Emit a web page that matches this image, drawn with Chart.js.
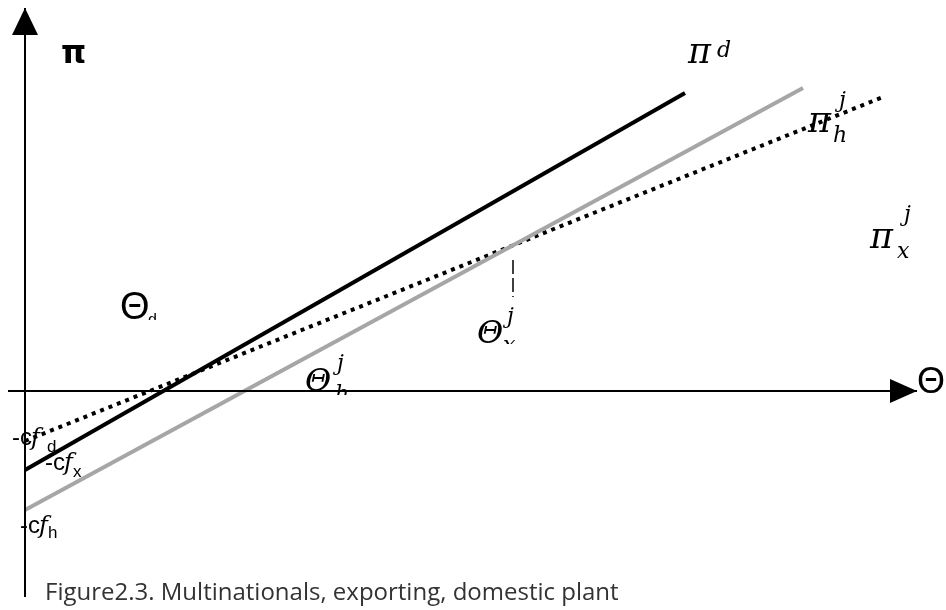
<!DOCTYPE html>
<html lang="en">
  <head>
    <meta charset="utf-8" />
    <title>Figure 2.3</title>
    <style>
      * {
        margin: 0;
        padding: 0;
      }
      body {
        background: white;
      }
      .chartBox {
        position: relative;
        width: 946px;
        height: 610px;
      }
      .caption {
        position: absolute;
        left: 45px;
        top: 579px;
        font: 24px/1 "Open Sans", sans-serif;
        color: #333;
        white-space: nowrap;
      }
    </style>
  </head>
  <body>
    <div class="chartBox">
      <canvas id="myChart"></canvas>
      <div class="caption">Figure2.3. Multinationals, exporting, domestic plant</div>
    </div>

    <script src="https://cdn.jsdelivr.net/npm/chart.js"></script>

    <script>
      // profit lines (theta on x, pi on y)
      const thetaD = [0, 66.0];
      const piD = [-7.9, 29.8];
      const thetaH = [0, 77.8];
      const piH = [-11.9, 30.3];
      const thetaX = [0, 85.8];
      const piX = [-5.0, 29.4];
      // dashed drop line at the pi_h / pi_x crossing
      const thetaCut = [48.8, 48.8];
      const piCut = [13.1, 9.4];
      // axis extents
      const thetaAxis = [-1.7, 89.2];
      const piAxis = [-20.6, 38.3];

      const pts = (xs, ys) => xs.map((x, i) => ({ x: x, y: ys[i] }));

      const serifI = (s) => "italic " + s + 'px "DejaVu Serif"';
      const sans = (s) => s + 'px "Liberation Sans"';

      // labels: anchor in data units, each part offset from it in px
      const labels = [
        { at: [3.6, 32.8], parts: [["π", 'bold 32px "DejaVu Sans"', 0, 0]] },
        {
          at: [66.3, 32.8],
          parts: [
            ["π", serifI(35), 0, 0],
            ["d", serifI(22), 29, -6],
          ],
        },
        {
          at: [78.3, 25.9],
          parts: [
            ["π", serifI(35), 0, 0],
            ["j", serifI(22), 31, -25],
            ["h", serifI(22), 25, 10],
          ],
        },
        {
          at: [84.5, 14.3],
          parts: [
            ["π", serifI(35), 0, 0],
            ["j", serifI(22), 34, -27],
            ["x", serifI(22), 27, 10],
          ],
        },
        {
          at: [9.5, 7.2],
          clip: 320,
          parts: [
            ["Θ", sans(38), 0, 0],
            ["d", sans(16), 28, 6],
          ],
        },
        {
          at: [45.2, 4.8],
          clip: 344,
          parts: [
            ["Θ", serifI(32), 0, 0],
            ["j", serifI(22), 30, -20],
            ["x", serifI(22), 26, 9],
          ],
        },
        {
          at: [28.0, 0],
          clip: 395,
          parts: [
            ["Θ", serifI(32), 0, 0],
            ["j", serifI(22), 32, -21],
            ["h", serifI(22), 30, 10],
          ],
        },
        { at: [89.2, -0.2], parts: [["Θ", sans(36), 0, 0]] },
        {
          at: [-1.3, -5.4],
          parts: [
            ["-c", sans(24), 0, 0],
            ["f", serifI(24), 19, 0],
            ["d", sans(17), 35, 7],
          ],
        },
        {
          at: [2.0, -7.9],
          parts: [
            ["-c", sans(24), 0, 0],
            ["f", serifI(24), 19, 0],
            ["x", sans(17), 28, 7],
          ],
        },
        {
          at: [-0.5, -14.2],
          parts: [
            ["-c", sans(24), 0, 0],
            ["f", serifI(24), 19, 0],
            ["h", sans(17), 28, 5],
          ],
        },
      ];

      const diagram = {
        id: "diagram",
        afterDatasetsDraw(chart) {
          const {
            ctx,
            scales: { x, y },
          } = chart;
          ctx.save();
          ctx.fillStyle = "black";

          // arrow heads
          const tx = x.getPixelForValue(0);
          const ty = y.getPixelForValue(piAxis[1]);
          ctx.beginPath();
          ctx.moveTo(tx, ty);
          ctx.lineTo(tx - 13, ty + 27);
          ctx.lineTo(tx + 13, ty + 27);
          ctx.closePath();
          ctx.fill();

          const rx = x.getPixelForValue(thetaAxis[1]);
          const ry = y.getPixelForValue(0);
          ctx.beginPath();
          ctx.moveTo(rx, ry);
          ctx.lineTo(rx - 27, ry - 12);
          ctx.lineTo(rx - 27, ry + 12);
          ctx.closePath();
          ctx.fill();

          // labels
          ctx.textBaseline = "alphabetic";
          ctx.textAlign = "left";
          labels.forEach((lab) => {
            ctx.save();
            if (lab.clip) {
              ctx.beginPath();
              ctx.rect(0, 0, chart.width, lab.clip);
              ctx.clip();
            }
            const px = x.getPixelForValue(lab.at[0]);
            const py = y.getPixelForValue(lab.at[1]);
            lab.parts.forEach(([t, f, ox, oy]) => {
              ctx.font = f;
              ctx.fillText(t, px + ox, py + oy);
            });
            ctx.restore();
          });
          ctx.restore();
        },
      };

      const lineStyle = {
        pointRadius: 0,
        fill: false,
        tension: 0,
        borderCapStyle: "butt",
      };

      const data = {
        datasets: [
          {
            ...lineStyle,
            data: pts([0, 0], piAxis),
            borderColor: "black",
            borderWidth: 2,
          },
          {
            ...lineStyle,
            data: pts(thetaAxis, [0, 0]),
            borderColor: "black",
            borderWidth: 2,
          },
          {
            ...lineStyle,
            label: "pi d",
            data: pts(thetaD, piD),
            borderColor: "black",
            borderWidth: 4,
          },
          {
            ...lineStyle,
            label: "pi h j",
            data: pts(thetaH, piH),
            borderColor: "#a6a6a6",
            borderWidth: 4,
          },
          {
            ...lineStyle,
            label: "pi x j",
            data: pts(thetaX, piX),
            borderColor: "black",
            borderWidth: 4,
            borderDash: [4, 5],
          },
          {
            ...lineStyle,
            data: pts(thetaCut, piCut),
            borderColor: "black",
            borderWidth: 1.5,
            borderDash: [14, 4],
          },
        ],
      };

      const config = {
        type: "scatter",
        data: data,
        options: {
          responsive: true,
          maintainAspectRatio: false,
          animation: false,
          events: [],
          showLine: true,
          layout: { padding: 0, autoPadding: false },
          plugins: {
            legend: { display: false },
            tooltip: { enabled: false },
          },
          scales: {
            x: { type: "linear", display: false, min: -2.5, max: 92.1 },
            y: { type: "linear", display: false, min: -21.9, max: 39.1 },
          },
        },
        plugins: [diagram],
      };

      const myChart = new Chart(document.getElementById("myChart"), config);
    </script>
  </body>
</html>
